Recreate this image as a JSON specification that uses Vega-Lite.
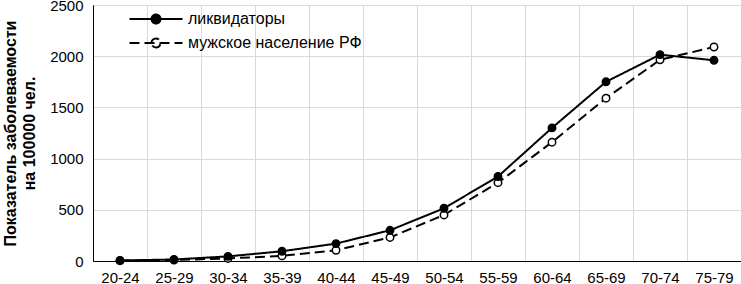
{
  "$schema": "https://vega.github.io/schema/vega-lite/v6.json",
  "width": 648,
  "height": 256,
  "autosize": {"type": "none"},
  "padding": {"left": 93, "top": 5, "right": 0, "bottom": 23},
  "config": {
    "font": "Liberation Sans",
    "view": {"stroke": "black", "strokeWidth": 1},
    "axis": {
      "domainColor": "black",
      "domainWidth": 1,
      "ticks": false,
      "grid": true,
      "gridColor": "#d9d9d9",
      "gridWidth": 1,
      "labelFont": "Liberation Sans",
      "labelFontSize": 15,
      "labelColor": "black"
    },
    "legend": {
      "orient": "none",
      "legendX": 55,
      "legendY": 6,
      "title": null,
      "labelFont": "Liberation Sans",
      "labelFontSize": 16,
      "labelColor": "black",
      "labelLimit": 0,
      "symbolSize": 100,
      "symbolType": "M-5.3,0H5.3M-0.9,0A0.9,0.9 0 1 1 0.9,0A0.9,0.9 0 1 1 -0.9,0Z",
      "symbolStrokeColor": "black",
      "symbolStrokeWidth": 2,
      "rowPadding": 6,
      "labelOffset": 24
    }
  },
  "data": {
    "values": [
      {"age": "20-24", "series": "мужское население РФ", "value": 3},
      {"age": "25-29", "series": "мужское население РФ", "value": 10},
      {"age": "30-34", "series": "мужское население РФ", "value": 25},
      {"age": "35-39", "series": "мужское население РФ", "value": 50},
      {"age": "40-44", "series": "мужское население РФ", "value": 105},
      {"age": "45-49", "series": "мужское население РФ", "value": 230},
      {"age": "50-54", "series": "мужское население РФ", "value": 450},
      {"age": "55-59", "series": "мужское население РФ", "value": 765},
      {"age": "60-64", "series": "мужское население РФ", "value": 1160},
      {"age": "65-69", "series": "мужское население РФ", "value": 1590},
      {"age": "70-74", "series": "мужское население РФ", "value": 1965},
      {"age": "75-79", "series": "мужское население РФ", "value": 2090},
      {"age": "20-24", "series": "ликвидаторы", "value": 5},
      {"age": "25-29", "series": "ликвидаторы", "value": 15},
      {"age": "30-34", "series": "ликвидаторы", "value": 45},
      {"age": "35-39", "series": "ликвидаторы", "value": 95},
      {"age": "40-44", "series": "ликвидаторы", "value": 170},
      {"age": "45-49", "series": "ликвидаторы", "value": 300},
      {"age": "50-54", "series": "ликвидаторы", "value": 515},
      {"age": "55-59", "series": "ликвидаторы", "value": 825},
      {"age": "60-64", "series": "ликвидаторы", "value": 1300},
      {"age": "65-69", "series": "ликвидаторы", "value": 1750},
      {"age": "70-74", "series": "ликвидаторы", "value": 2015},
      {"age": "75-79", "series": "ликвидаторы", "value": 1960}
    ]
  },
  "encoding": {
    "x": {
      "field": "age",
      "type": "ordinal",
      "sort": null,
      "scale": {"paddingInner": 0, "paddingOuter": 0},
      "axis": {"title": null, "labelAngle": 0, "tickBand": "extent", "labelPadding": 9}
    },
    "y": {
      "field": "value",
      "type": "quantitative",
      "scale": {"domain": [0, 2500], "nice": false},
      "axis": {
        "values": [0, 500, 1000, 1500, 2000, 2500],
        "format": "d",
        "labelPadding": 10,
        "title": ["Показатель заболеваемости", "на 100000 чел."],
        "titleFont": "Liberation Sans",
        "titleFontSize": 16,
        "titleFontWeight": "bold",
        "titleColor": "black",
        "titleLineHeight": 19,
        "titlePadding": 12
      }
    }
  },
  "layer": [
    {
      "mark": {"type": "line", "color": "black", "strokeWidth": 2},
      "encoding": {
        "strokeDash": {
          "field": "series",
          "type": "nominal",
          "title": null,
          "scale": {"domain": ["ликвидаторы", "мужское население РФ"], "range": [[1, 0], [10, 5]]},
          "legend": {"orient": "none", "legendX": 55, "legendY": 6, "symbolType": "M-5.3,0H5.3M-0.9,0A0.9,0.9 0 1 1 0.9,0A0.9,0.9 0 1 1 -0.9,0Z"}
        }
      }
    },
    {
      "mark": {"type": "point", "shape": "circle", "filled": true, "size": 55, "stroke": "black", "strokeWidth": 1.5, "opacity": 1},
      "encoding": {
        "fill": {
          "field": "series",
          "type": "nominal",
          "title": null,
          "scale": {"domain": ["ликвидаторы", "мужское население РФ"], "range": ["black", "white"]},
          "legend": {"orient": "none", "legendX": 55, "legendY": 6, "symbolType": "M-5.3,0H5.3M-0.9,0A0.9,0.9 0 1 1 0.9,0A0.9,0.9 0 1 1 -0.9,0Z"}
        }
      }
    }
  ]
}
